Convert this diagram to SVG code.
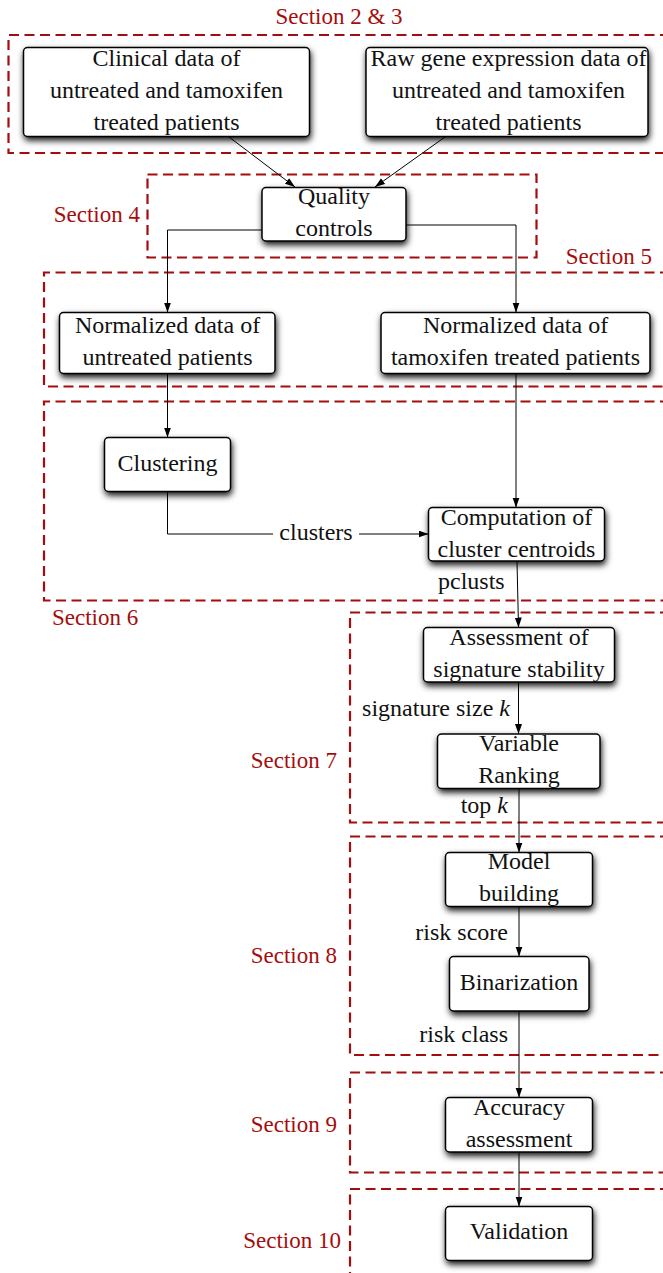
<svg xmlns="http://www.w3.org/2000/svg" width="663" height="1273" viewBox="0 0 663 1273">
  <defs>
    <filter id="shadow" x="-20%" y="-30%" width="140%" height="180%">
      <feDropShadow dx="1" dy="3.5" stdDeviation="3" flood-color="#000" flood-opacity="0.9"/>
    </filter>
    <marker id="arrow" markerUnits="userSpaceOnUse" markerWidth="11" markerHeight="8" refX="10" refY="3.5" orient="auto">
      <path d="M0,0 L10,3.5 L0,7 z" fill="#000"/>
    </marker>
    <style>
      .node rect { fill: #fff; stroke: #000; stroke-width: 1.5; filter: url(#shadow); }
      .section rect, .section path { fill: none; stroke: #a40d0d; stroke-width: 2.2; stroke-dasharray: 10 5.5; }
      .edge { fill: none; stroke: #000; stroke-width: 1; marker-end: url(#arrow); }
    </style>
  </defs>

  <rect width="663" height="1273" fill="#fff"/>

  <!-- section frames (open towards the right/bottom edge) -->
  <g id="sections" class="section" font-family="Liberation Serif" font-size="23" fill="#a40d0d">
    <path d="M670,35 H8.5 V153 H670"/>
    <text x="339" y="24" text-anchor="middle">Section 2 &amp; 3</text>
    <rect x="147.5" y="174.5" width="389" height="83"/>
    <text x="140" y="222" text-anchor="end">Section 4</text>
    <path d="M670,272.5 H44 V386.5 H670"/>
    <text x="652" y="264" text-anchor="end">Section 5</text>
    <path d="M670,401.5 H44 V600.5 H670"/>
    <text x="52" y="625">Section 6</text>
    <path d="M670,612.5 H350 V822.5 H670"/>
    <text x="337" y="768" text-anchor="end">Section 7</text>
    <path d="M670,836.5 H350 V1055 H670"/>
    <text x="337" y="963" text-anchor="end">Section 8</text>
    <path d="M670,1072.5 H350 V1172.5 H670"/>
    <text x="337" y="1132" text-anchor="end">Section 9</text>
    <path d="M670,1189 H350 V1280"/>
    <text x="341" y="1248" text-anchor="end">Section 10</text>
  </g>

  <!-- connectors -->
  <g id="connectors" font-family="Liberation Serif" font-size="24" fill="#111">
    <path class="edge" d="M229,137 L295,187"/>
    <path class="edge" d="M445,137 L375,187"/>
    <path class="edge" d="M262,230 H167.5 V312.5"/>
    <path class="edge" d="M406,225 H516 V312.5"/>
    <path class="edge" d="M167.5,373.5 V437.5"/>
    <path class="edge" d="M516,373.5 V507.5"/>
    <path class="edge" d="M167.5,492 V534 H428.5"/>
    <rect x="273" y="522" width="86" height="22" fill="#fff"/>
    <text x="316" y="540" text-anchor="middle">clusters</text>
    <path class="edge" d="M517,561.5 L518.5,627.5"/>
    <text x="438" y="589">pclusts</text>
    <path class="edge" d="M518.5,682 V734"/>
    <text x="510" y="716" text-anchor="end">signature size <tspan font-style="italic">k</tspan></text>
    <path class="edge" d="M519,789 V852.5"/>
    <text x="508" y="813" text-anchor="end">top <tspan font-style="italic">k</tspan></text>
    <path class="edge" d="M519,907 V956.5"/>
    <text x="508" y="940" text-anchor="end">risk score</text>
    <path class="edge" d="M519,1011 V1097.5"/>
    <text x="508" y="1042" text-anchor="end">risk class</text>
    <path class="edge" d="M519,1152.5 V1206.5"/>
  </g>

  <!-- nodes -->
  <g font-family="Liberation Serif" font-size="24" fill="#111" text-anchor="middle">
    <g id="clinical" class="node">
      <rect x="23.5" y="47.5" width="286" height="89" rx="4"/>
      <text x="166.5" y="66">Clinical data of</text>
      <text x="166.5" y="98">untreated and tamoxifen</text>
      <text x="166.5" y="130">treated patients</text>
    </g>
    <g id="raw" class="node">
      <rect x="366" y="47.5" width="282" height="89" rx="4"/>
      <text x="508.5" y="66">Raw gene expression data of</text>
      <text x="508.5" y="98">untreated and tamoxifen</text>
      <text x="508.5" y="130">treated patients</text>
    </g>
    <g id="quality" class="node">
      <rect x="262" y="187.5" width="144" height="53.5" rx="4"/>
      <text x="334" y="204">Quality</text>
      <text x="334" y="236">controls</text>
    </g>
    <g id="norm-untreated" class="node">
      <rect x="59.5" y="312.5" width="215.5" height="61" rx="4"/>
      <text x="167.5" y="333">Normalized data of</text>
      <text x="167.5" y="365">untreated patients</text>
    </g>
    <g id="norm-tamoxifen" class="node">
      <rect x="381" y="312.5" width="269" height="61" rx="4"/>
      <text x="515.5" y="333">Normalized data of</text>
      <text x="515.5" y="365">tamoxifen treated patients</text>
    </g>
    <g id="clustering" class="node">
      <rect x="104.5" y="437.5" width="126" height="54" rx="4"/>
      <text x="167.5" y="471">Clustering</text>
    </g>
    <g id="centroids" class="node">
      <rect x="428.5" y="507.5" width="176" height="53.5" rx="4"/>
      <text x="516.5" y="525">Computation of</text>
      <text x="516.5" y="557">cluster centroids</text>
    </g>
    <g id="stability" class="node">
      <rect x="423.5" y="627.5" width="191" height="54.5" rx="4"/>
      <text x="519" y="645">Assessment of</text>
      <text x="519" y="677">signature stability</text>
    </g>
    <g id="ranking" class="node">
      <rect x="437.5" y="734" width="162.5" height="54.5" rx="4"/>
      <text x="519" y="751">Variable</text>
      <text x="519" y="783">Ranking</text>
    </g>
    <g id="model" class="node">
      <rect x="445.5" y="852.5" width="147" height="54" rx="4"/>
      <text x="519" y="869">Model</text>
      <text x="519" y="901">building</text>
    </g>
    <g id="binarization" class="node">
      <rect x="449.5" y="956.5" width="139.5" height="54.5" rx="4"/>
      <text x="519" y="990">Binarization</text>
    </g>
    <g id="accuracy" class="node">
      <rect x="445.5" y="1097.5" width="147" height="54.5" rx="4"/>
      <text x="519" y="1115">Accuracy</text>
      <text x="519" y="1147">assessment</text>
    </g>
    <g id="validation" class="node">
      <rect x="445.5" y="1206.5" width="147" height="54" rx="4"/>
      <text x="519" y="1239">Validation</text>
    </g>
  </g>
</svg>
